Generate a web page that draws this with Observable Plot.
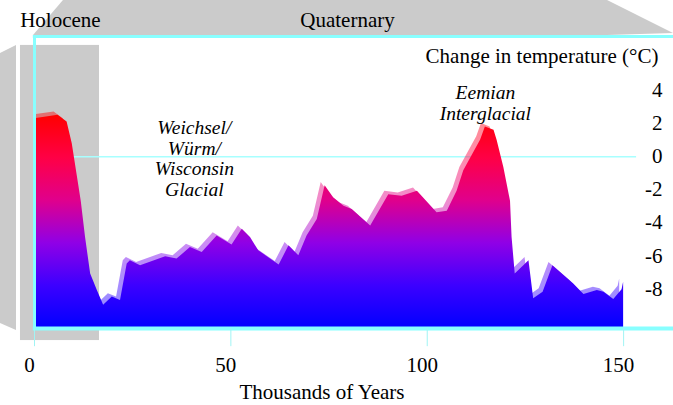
<!DOCTYPE html>
<html>
<head>
<meta charset="utf-8">
<script src="https://cdn.jsdelivr.net/npm/d3@7"></script>
<script src="https://cdn.jsdelivr.net/npm/@observablehq/plot@0.6"></script>
<style>
  html, body { margin: 0; padding: 0; background: #fff; }
  svg { display: block; }
</style>
</head>
<body>
<div id="chart"></div>
<script>
// ---- data ----
const years = [0, 6, 8.3, 9.6, 11.9, 13, 14.3, 16, 17.6, 19.8, 21.9, 23.6, 24.4, 27, 33.4, 36.3, 39.7, 42.7, 46.5, 50.3, 52.9, 55, 57.1, 62.3, 64.8, 67.3, 69.4, 72, 74, 76.2, 78.8, 80.9, 85.6, 90.2, 93.6, 97.5, 102.5, 105.1, 107.6, 109.3, 113.6, 114.8, 117, 117.8, 119.5, 121.2, 121.6, 122.4, 125.9, 127.1, 129.5, 132, 137.3, 139.9, 143.3, 145, 147.5, 149.6, 150];
const temps = [2.3, 2.5, 2.1, 0.8, -2.7, -4.9, -7.1, -8.1, -9.0, -8.5, -8.7, -6.5, -6.3, -6.6, -6.06, -6.2, -5.5, -5.8, -4.8, -5.35, -4.4, -4.9, -5.7, -6.55, -5.4, -6.0, -4.8, -3.8, -1.76, -2.5, -3.0, -3.2, -4.2, -2.3, -2.4, -2.1, -3.4, -3.3, -2.1, -0.85, 1.0, 1.8, 1.6, 0.97, -0.65, -2.7, -4.9, -7.1, -6.3, -8.6, -8.2, -6.6, -7.7, -8.35, -8.1, -8.2, -8.65, -8.05, -7.6];
const xTicks = [0, 50, 100, 150];
const yTicks = [4, 2, 0, -2, -4, -6, -8];
const xTickLabels = ["0", "50", "100", "150"];
const yTickLabels = ["4", "2", "0", "-2", "-4", "-6", "-8"];
const periodLabels = ["Holocene", "Quaternary"];
const periodX = [6.6, 79.7];
const annotations = ["Weichsel/\nWürm/\nWisconsin\nGlacial", "Eemian\nInterglacial"];
const annotationX = [40.7, 114.8];
const annotationY = [-0.1, 3.25];
const xTitle = "Thousands of Years";
const yTitle = "Change in temperature (°C)";

// decorative grey "3D" panels, in data coordinates
const topPanelX = [-0.25, 7.38, 145.9, 162.7];
const topPanelLow = [7.33, 7.33, 7.33, 7.45];
const topPanelHigh = [7.33, 9.45, 9.45, 7.45];
const sidePanelX = [-8.66, -4.58];
const sidePanelLow = [-10.1, -10.52];
const sidePanelHigh = [6.24, 6.73];
const holoceneBand = [{x1: -3.57, x2: 16.55, y1: -11.13, y2: 6.73}];

const yMin = -10.4, yTop = 7.27, xMax = 162.7;
const shadowShift = {x: 1, y: 0.2};

const data = years.map((year, i) => ({year, temp: temps[i]}));
const topPanel = topPanelX.map((x, i) => ({x, lo: topPanelLow[i], hi: topPanelHigh[i]}));
const sidePanel = sidePanelX.map((x, i) => ({x, lo: sidePanelLow[i], hi: sidePanelHigh[i]}));

const cyan = "#88ffff";
const grey = "#cbcbcb";
const serif = "'Liberation Serif', 'Times New Roman', serif";
const fs = 21;

const plot = Plot.plot({
  width: 673,
  height: 405,
  marginLeft: 34,
  marginRight: 0,
  marginTop: 36,
  marginBottom: 77,
  style: {fontFamily: serif, fontSize: "21px", background: "white", color: "black", overflow: "visible"},
  x: {domain: [0, xMax], axis: null},
  y: {domain: [yMin, yTop], axis: null},
  marks: [
    Plot.areaY(sidePanel, {x: "x", y1: "lo", y2: "hi", fill: grey}),
    Plot.areaY(topPanel, {x: "x", y1: "lo", y2: "hi", fill: grey}),
    Plot.rect(holoceneBand, {x1: "x1", x2: "x2", y1: "y1", y2: "y2", fill: grey}),
    Plot.ruleY([0], {x1: 0, x2: 153.3, stroke: "#a8ffff", strokeWidth: 1.5}),
    // lighter offset "shadow" of the curve
    Plot.areaY(data, {x: d => d.year - shadowShift.x, y1: yMin, y2: d => d.temp + shadowShift.y,
      fill: "url(#tempGrad)", fillOpacity: 0.45, clip: true}),
    Plot.areaY(data, {x: "year", y1: yMin, y2: "temp", fill: "url(#tempGrad)", clip: true}),
    // frame lines
    Plot.ruleY([yTop], {x1: -0.3, x2: xMax, stroke: cyan, strokeWidth: 3}),
    Plot.ruleY([yMin], {x1: -0.3, x2: xMax, stroke: cyan, strokeWidth: 4}),
    Plot.ruleX([0], {y1: yMin, y2: yTop, stroke: cyan, strokeWidth: 3}),
    Plot.ruleX(xTicks, {x: d => d, y1: yMin, y2: yMin - 1.1, stroke: "#a0f4f4", strokeWidth: 1}),
    // texts
    Plot.text(xTicks, {x: d => d, text: (d, i) => xTickLabels[i], frameAnchor: "bottom", lineAnchor: "middle", dy: 37, dx: -5, fontSize: fs}),
    Plot.text([xTitle], {x: 73.2, text: d => d, frameAnchor: "bottom", lineAnchor: "middle", dy: 64, fontSize: fs}),
    Plot.text(yTicks, {y: d => d, text: (d, i) => yTickLabels[i], frameAnchor: "right", lineAnchor: "middle", textAnchor: "end", dx: -11, fontSize: fs}),
    Plot.text([yTitle], {text: d => d, frameAnchor: "top-right", lineAnchor: "middle", textAnchor: "end", dx: -15, dy: 20, fontSize: fs}),
    Plot.text(periodLabels, {x: (d, i) => periodX[i], text: d => d, frameAnchor: "top", lineAnchor: "middle", dy: -16, fontSize: fs}),
    Plot.text(annotations, {x: (d, i) => annotationX[i], y: (d, i) => annotationY[i], text: d => d,
      fontStyle: "italic", fontSize: 19.5, lineHeight: 1.07})
  ]
});

// gradient definition used by the area fill
const defs = d3.select(plot).insert("defs", ":first-child");
const grad = defs.append("linearGradient").attr("id", "tempGrad")
  .attr("x1", 0).attr("y1", 0).attr("x2", 0).attr("y2", 1);
[[0, "#ff0000"], [0.2, "#ff0045"], [0.4, "#e0008c"], [0.6, "#9000e6"], [0.8, "#3c00ff"], [1, "#0000ff"]]
  .forEach(([o, c]) => grad.append("stop").attr("offset", o).attr("stop-color", c));

document.getElementById("chart").appendChild(plot);
</script>
</body>
</html>
